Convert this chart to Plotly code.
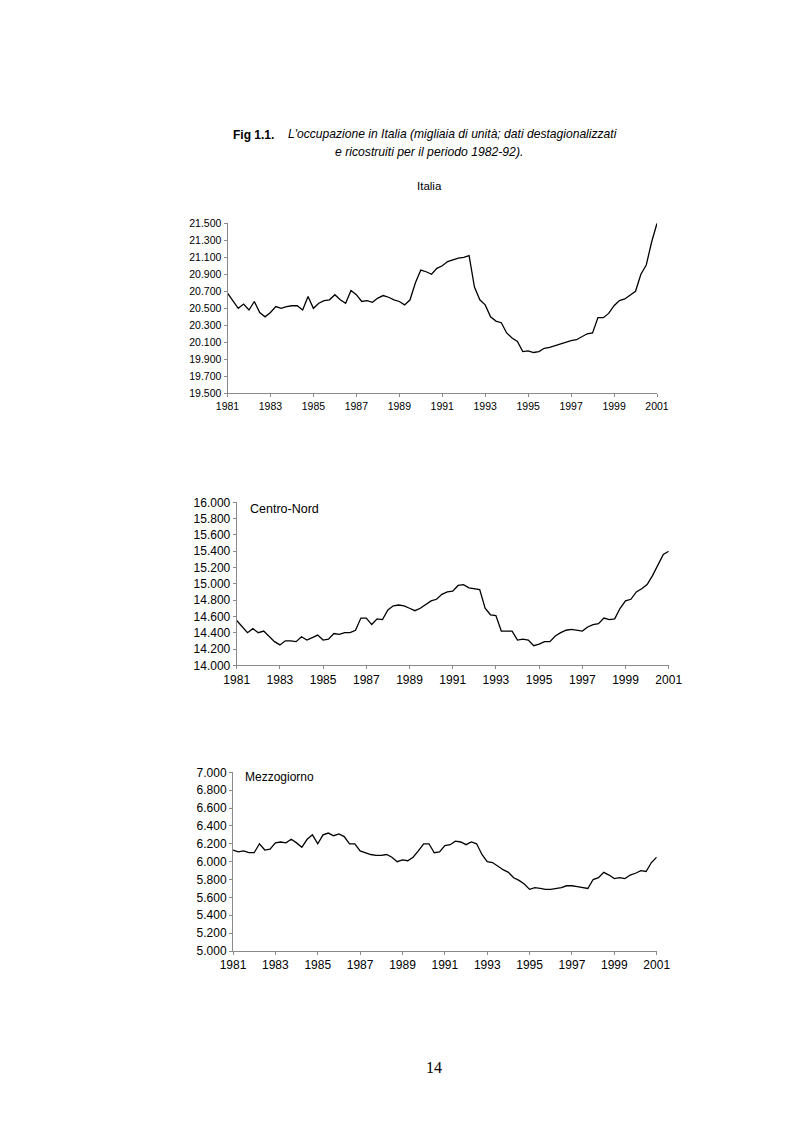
import plotly.graph_objects as go

# ---------------- data (quarterly, 1981Q1 - 2001Q1, thousands) ----------------
start_year = 1981
n_quarters = 81

italia = [
    20680, 20590, 20500, 20550,
    20480, 20580, 20450, 20400,
    20450, 20520, 20500, 20520,
    20530, 20530, 20480, 20640,
    20500, 20560, 20590, 20600,
    20660, 20600, 20560, 20710,
    20660, 20580, 20590, 20570,
    20620, 20650, 20630, 20600,
    20580, 20540, 20600, 20800,
    20950, 20930, 20900, 20970,
    21000, 21050, 21070, 21090,
    21100, 21120, 20750, 20600,
    20540, 20400, 20350, 20330,
    20210, 20150, 20110, 19990,
    20000, 19980, 19990, 20030,
    20040, 20060, 20080, 20100,
    20120, 20130, 20170, 20200,
    20210, 20390, 20390, 20440,
    20530, 20590, 20610, 20650,
    20700, 20900, 21010, 21280,
    21500,
]

centro_nord = [
    14550, 14480, 14400, 14450,
    14400, 14420, 14350, 14290,
    14250, 14300, 14300, 14290,
    14350, 14310, 14340, 14370,
    14310, 14320, 14390, 14380,
    14400, 14400, 14430, 14580,
    14580, 14500, 14570, 14560,
    14680, 14730, 14740, 14730,
    14700, 14670, 14700, 14750,
    14790, 14810, 14870, 14900,
    14910, 14980, 14990, 14950,
    14940, 14930, 14700, 14620,
    14610, 14420, 14420, 14420,
    14310, 14320, 14310, 14240,
    14260, 14290, 14290, 14360,
    14400, 14430, 14440, 14430,
    14420, 14470, 14500, 14510,
    14580, 14560, 14570, 14700,
    14790, 14810, 14900, 14940,
    14990, 15100, 15230, 15360,
    15400,
]

mezzogiorno = [
    6130, 6110, 6120, 6100,
    6100, 6200, 6130, 6140,
    6210, 6220, 6210, 6250,
    6210, 6160, 6250, 6300,
    6200, 6300, 6320, 6290,
    6310, 6280, 6200, 6200,
    6120, 6100, 6080, 6070,
    6070, 6080, 6050, 6000,
    6020, 6010, 6050, 6120,
    6200, 6200, 6100, 6110,
    6180, 6190, 6230, 6220,
    6190, 6220, 6200, 6080,
    6000, 5990, 5950, 5910,
    5880, 5820, 5790, 5750,
    5690, 5710, 5700, 5690,
    5690, 5700, 5710, 5730,
    5730, 5720, 5710, 5700,
    5800, 5820, 5880, 5850,
    5810, 5820, 5810, 5850,
    5870, 5900, 5890, 5990,
    6050,
]

year_ticks = list(range(1981, 2002, 2))
x_vals = [start_year + i / 4 for i in range(n_quarters)]

# ---------------- layout helpers ----------------
W, H = 793, 1123


def px_x(p):
    return p / W


def px_y(p):
    return 1 - p / H


panels = [
    # (data, x0, x1, ytop, ybottom, yrange, tick font size)
    (italia, 227.5, 657.0, 223.3, 393.3, (19500, 21500), 10.5),
    (centro_nord, 236.7, 668.7, 502.3, 665.3, (14000, 16000), 12),
    (mezzogiorno, 233.0, 656.7, 772.3, 951.0, (5000, 7000), 12),
]

fig = go.Figure()
axis_color = "#8a8a8a"
font_family = "Liberation Sans, Arial, sans-serif"

for i, (data, x0, x1, yt, yb, yr, fs) in enumerate(panels):
    xa = "x" if i == 0 else f"x{i+1}"
    ya = "y" if i == 0 else f"y{i+1}"
    fig.add_trace(go.Scatter(
        x=x_vals, y=data, mode="lines",
        line=dict(color="black", width=1.3),
        xaxis=xa, yaxis=ya, showlegend=False, hoverinfo="skip",
    ))
    xkey = "xaxis" if i == 0 else f"xaxis{i+1}"
    ykey = "yaxis" if i == 0 else f"yaxis{i+1}"
    fig.layout[xkey] = dict(
        domain=[px_x(x0), px_x(x1)],
        anchor=ya,
        range=[start_year, 2001],
        tickmode="array", tickvals=year_ticks,
        ticktext=[str(y) for y in year_ticks],
        ticks="outside", ticklen=3, tickcolor=axis_color, tickwidth=1,
        showline=True, linecolor=axis_color, linewidth=1,
        showgrid=False, zeroline=False, automargin=False,
        tickfont=dict(family=font_family, size=fs, color="black"),
        fixedrange=True,
    )
    fig.layout[ykey] = dict(
        domain=[px_y(yb), px_y(yt)],
        anchor=xa,
        range=list(yr),
        tickmode="linear", tick0=yr[0], dtick=200,
        tickformat=",d",
        ticks="outside", ticklen=3, tickcolor=axis_color, tickwidth=1,
        showline=True, linecolor=axis_color, linewidth=1,
        showgrid=False, zeroline=False, automargin=False,
        tickfont=dict(family=font_family, size=fs, color="black"),
        fixedrange=True,
    )

annotations = [
    dict(text="<b>Fig 1.1.</b>", x=px_x(231), y=px_y(135), xanchor="left", yanchor="middle",
         font=dict(family=font_family, size=12, color="black")),
    dict(text="<i>L'occupazione in Italia (migliaia di unità; dati destagionalizzati</i>",
         x=px_x(285.5), y=px_y(134), xanchor="left", yanchor="middle",
         font=dict(family=font_family, size=12.1, color="black")),
    dict(text="<i>e ricostruiti per il periodo 1982-92).</i>",
         x=px_x(333), y=px_y(152), xanchor="left", yanchor="middle",
         font=dict(family=font_family, size=12.2, color="black")),
    dict(text="Italia", x=px_x(429.5), y=px_y(185.5), xanchor="center", yanchor="middle",
         font=dict(family=font_family, size=11.5, color="black")),
    dict(text="Centro-Nord", x=px_x(248), y=px_y(509), xanchor="left", yanchor="middle",
         font=dict(family=font_family, size=12.5, color="black")),
    dict(text="Mezzogiorno", x=px_x(242.5), y=px_y(776.5), xanchor="left", yanchor="middle",
         font=dict(family=font_family, size=12, color="black")),
    dict(text="14", x=px_x(434), y=px_y(1067), xanchor="center", yanchor="middle",
         font=dict(family="Liberation Serif, Times New Roman, serif", size=16, color="black")),
]
for a in annotations:
    a.update(xref="paper", yref="paper", showarrow=False)

fig.update_layout(
    width=W, height=H,
    autosize=False,
    margin=dict(l=0, r=0, t=0, b=0, pad=0, autoexpand=False),
    paper_bgcolor="white", plot_bgcolor="white",
    separators=",.",
    annotations=annotations,
    showlegend=False,
)

fig.write_html(
    "out.html",
    config={"displayModeBar": False, "responsive": False},
    post_script="document.body.style.margin='0';document.body.style.padding='0';"
                "document.documentElement.style.overflow='hidden';",
)
